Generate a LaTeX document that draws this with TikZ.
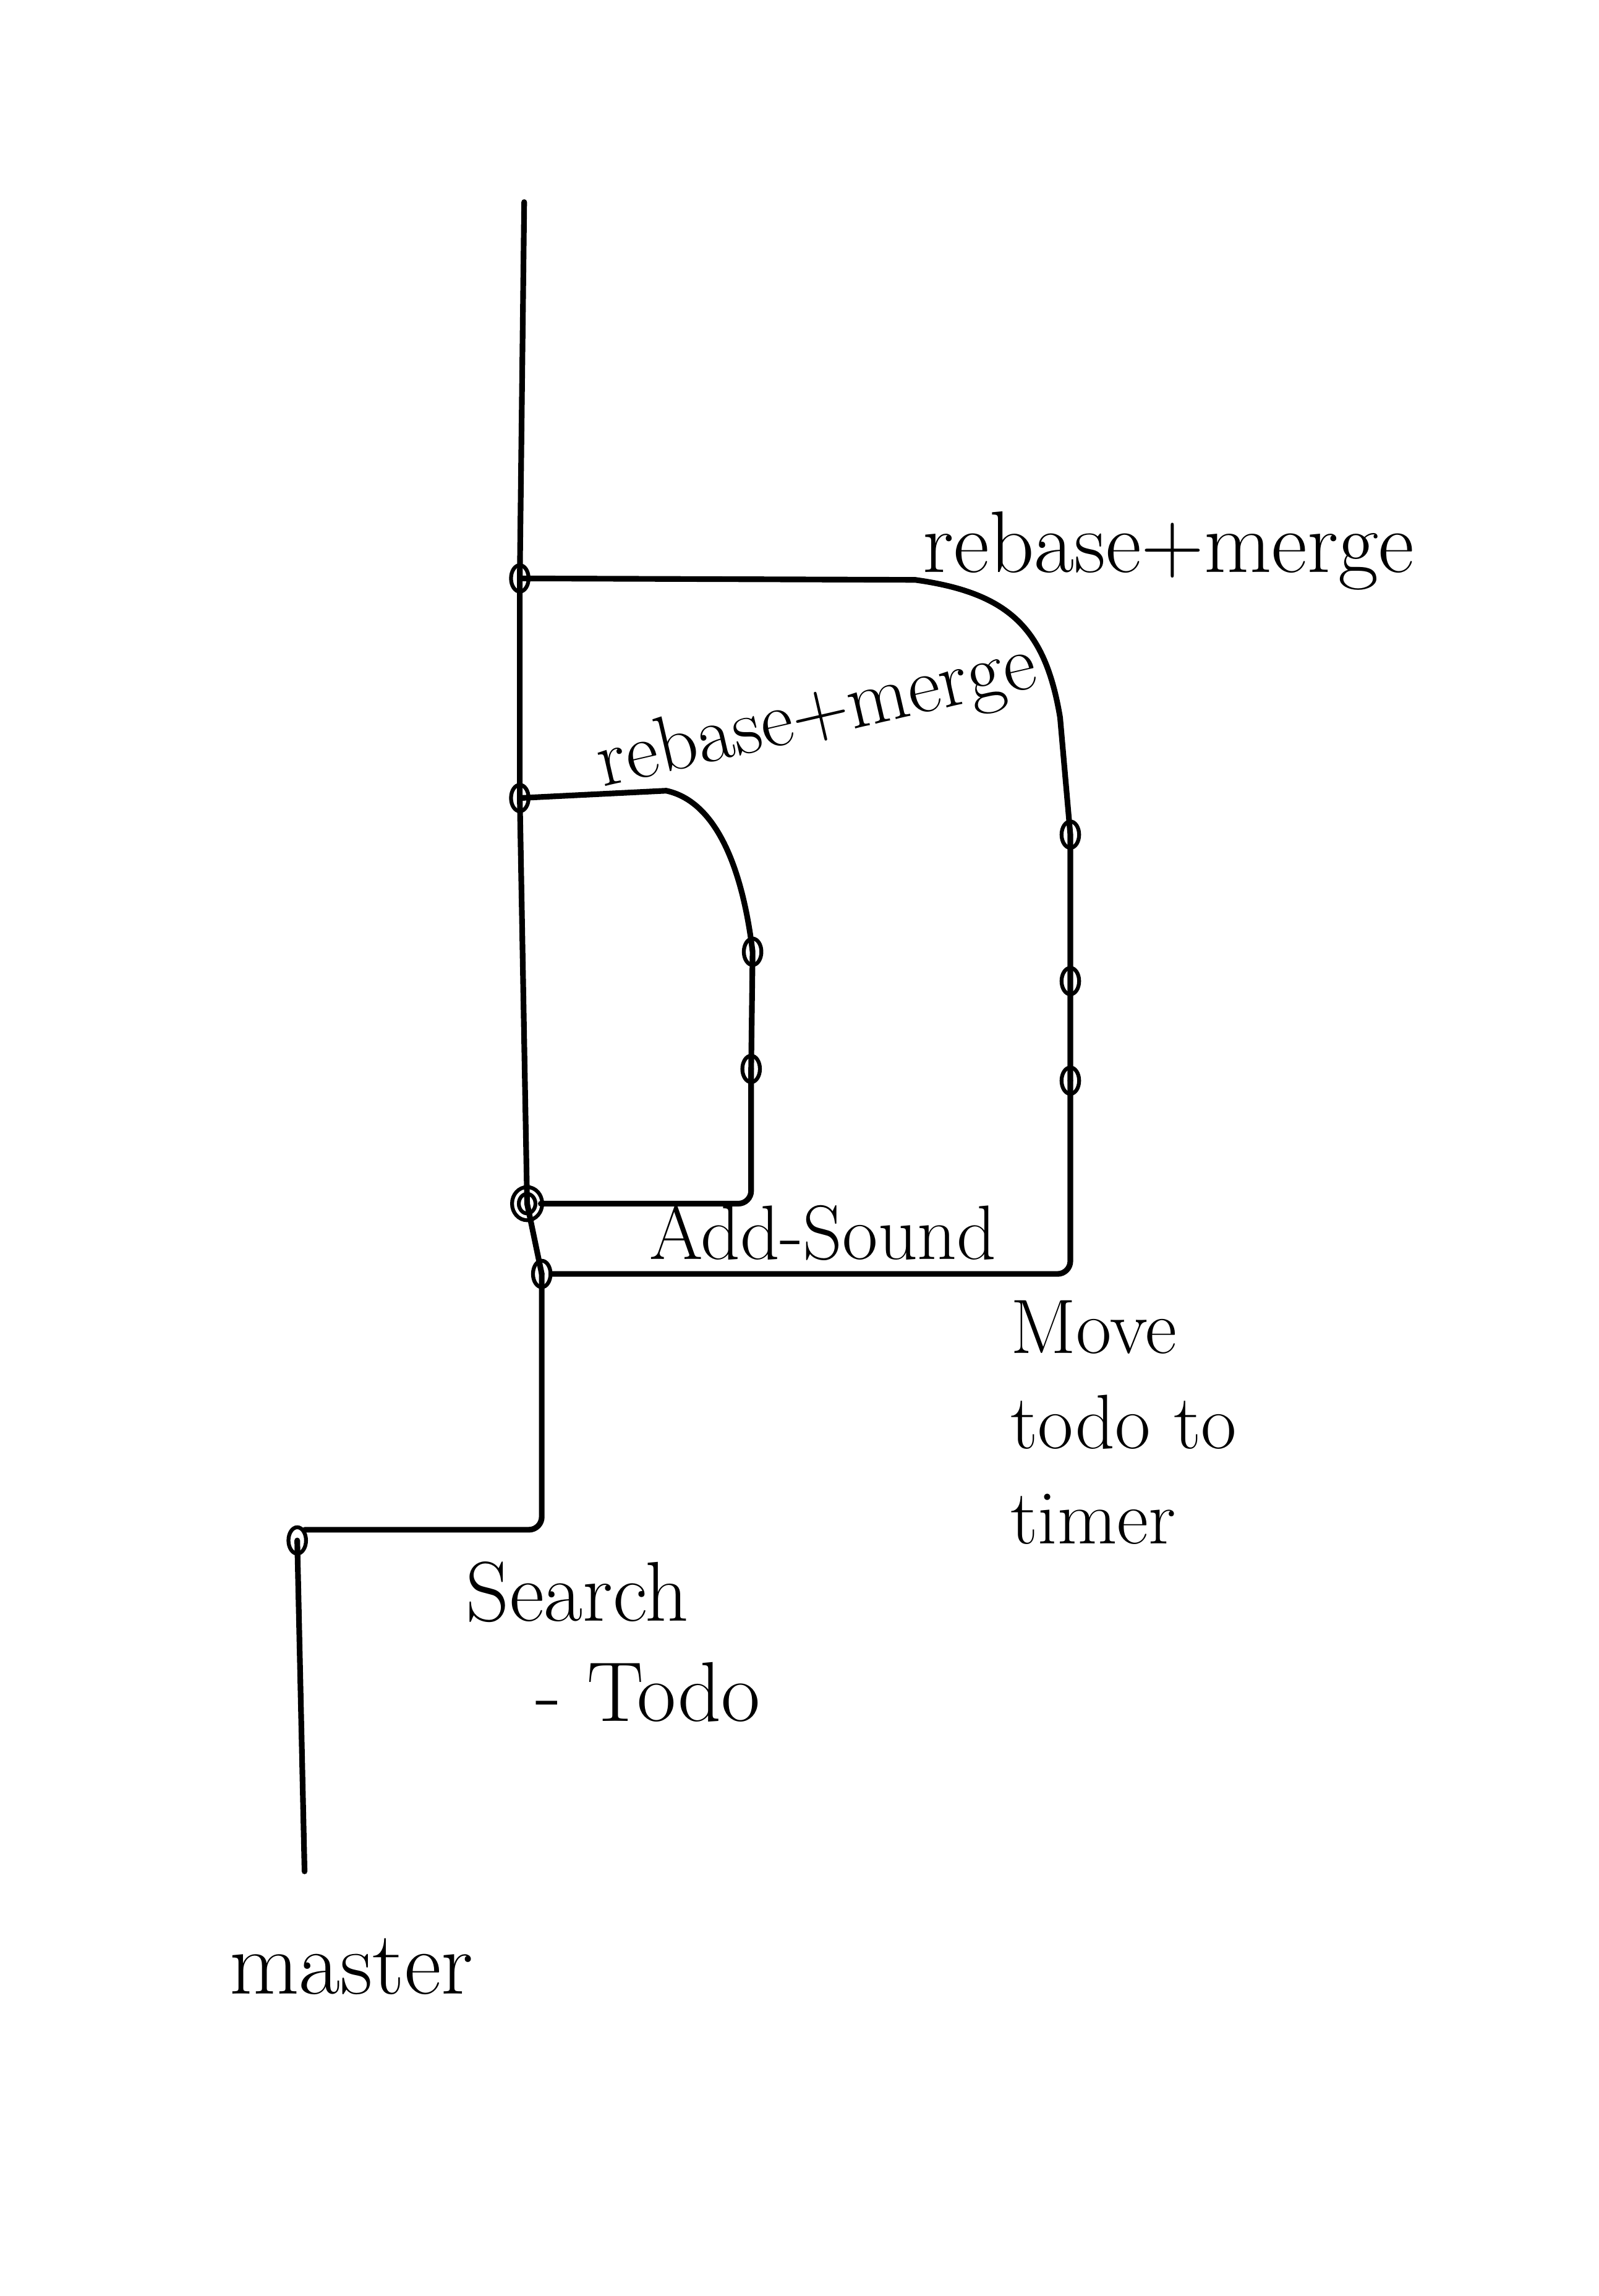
\documentclass[tikz,border=0pt]{standalone}
\usetikzlibrary{shapes.geometric, positioning}

\tikzset{
  branch/.style={line width=2.2pt, line cap=round, line join=round},
  commit/.style={draw, ellipse, line width=1.5pt, minimum width=0.24cm,
    minimum height=0.36cm, inner sep=0pt},
  headcommit/.style={commit, double, double distance=1.1pt,
    minimum width=0.32cm, minimum height=0.36cm},
  hand/.style={font=\fontsize{30}{37}\selectfont, inner sep=0pt, align=left},
}

\begin{document}
\begin{tikzpicture}[x=0.02cm,y=-0.02cm]
\useasboundingbox (0,0) rectangle (1092,1568);

% Commits on master
\node[commit] (m0) at (203,1052) {};
\node[commit] (s1) at (370,870) {};
\node[headcommit] (s2) at (360,822) {};
\node[commit] (a1) at (355,545) {};
\node[commit] (b1) at (355,395) {};
\coordinate (top) at (358,138);
\coordinate (bottom) at (208,1278);

% Commits on the Add-Sound branch
\node[commit] (c1) at (513,730) {};
\node[commit] (c2) at (514,650) {};
\coordinate (addknee) at (455,540);

% Commits on the Move-todo branch
\foreach \y/\n in {738/1, 670/2, 570/3}{
  \node[commit] (d\n) at (731,\y) {};
}
\coordinate (moveup) at (724,490);
\coordinate (moveknee) at (625,396);

% Trunk
\draw[branch] (top) -- (b1.center) -- (a1.center) -- (s2.center) -- (s1.center);
\draw[branch, rounded corners=5pt] (s1.center) |- (m0.north east);
\draw[branch] (m0.center) -- (bottom);

% Add-Sound branch
\draw[branch, rounded corners=5pt] (s2.east) -| (c1.center);
\draw[branch] (c1.center) -- (c2.center)
  .. controls (508,600) and (492,548) .. (addknee) -- (a1.center);

% Move-todo branch
\draw[branch, rounded corners=5pt] (s1.east) -| (d1.center);
\draw[branch] (d1.center) -- (d2.center) -- (d3.center) -- (moveup)
  .. controls (714,430) and (690,405) .. (moveknee) -- (b1.center);

% Labels
\node[hand, font=\fontsize{34}{40}\selectfont] (lblRebaseTop) at (798,376) {rebase+merge};
\node[hand, font=\fontsize{31}{37}\selectfont, rotate=13] (lblRebaseLow) at (558,490) {rebase+merge};
\node[hand] (lblAddSound) at (562,842) {Add-Sound};
\node[hand, anchor=north west] (lblMove) at (690,888) {Move\\todo to\\timer};
\node[hand, font=\fontsize{33}{39}\selectfont, anchor=north west] (lblSearch) at (318,1066) {Search\\\hspace{0.95cm}- Todo};
\node[hand, font=\fontsize{35}{40}\selectfont] (lblMaster) at (240,1343) {master};
\end{tikzpicture}
\end{document}
